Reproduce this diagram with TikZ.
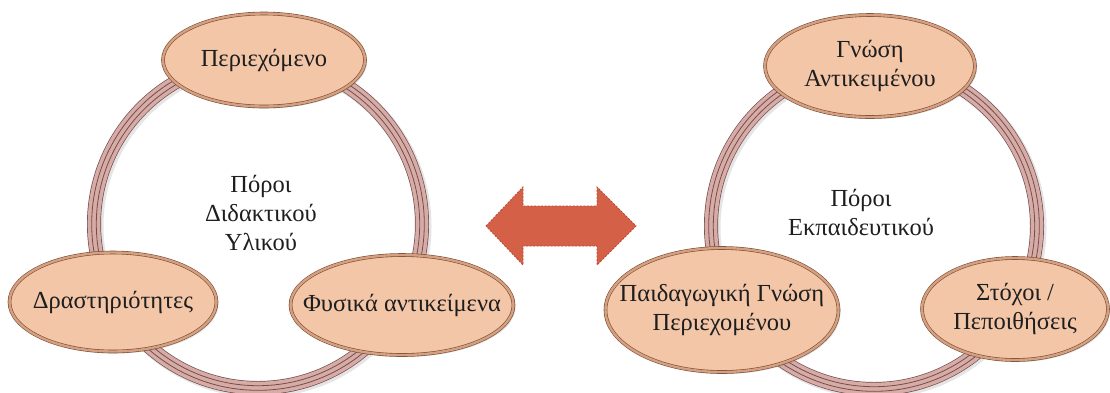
\documentclass[tikz,border=0pt]{standalone}
\usepackage{fontspec}
\setmainfont{Liberation Serif}
\usetikzlibrary{shapes.geometric,shadows}
\definecolor{peach}{RGB}{243,198,168}
\definecolor{ovalline}{RGB}{120,78,55}
\definecolor{ovalband}{RGB}{214,160,128}
\definecolor{ringpink}{RGB}{216,172,166}
\definecolor{ringdark}{RGB}{115,78,78}
\definecolor{arrowfill}{RGB}{212,96,72}
\definecolor{arrowline}{RGB}{185,75,55}
\definecolor{txt}{RGB}{30,30,30}
\tikzset{
  oval/.style={ellipse, fill=peach, draw=ovalline, line width=0.6pt,
    double=ovalband, double distance=2.4pt, inner sep=0pt,
    drop shadow={opacity=0.25, shadow xshift=2pt, shadow yshift=-2pt}},
  lbl/.style={align=center, text=txt, inner sep=0pt,
    font=\fontsize{24.5}{29}\selectfont},
  ringshadow/.style={line width=15pt, draw=black, opacity=0.10},
  ringouter/.style={line width=14pt, draw=ringdark},
  ringinner/.style={line width=12.6pt, draw=ringpink},
  ringline/.style={line width=0.8pt, draw=ringdark},
}
\begin{document}
\begin{tikzpicture}[x=1pt,y=-1pt]
\useasboundingbox (0,0) rectangle (1110,392);
% left ring
\coordinate (cl) at (258,224);
\draw[ringshadow] ([shift={(2,2)}]cl) circle (164);
\draw[ringouter] (cl) circle (164);
\draw[ringinner] (cl) circle (164);
\draw[ringline] (cl) circle (166.3);
\draw[ringline] (cl) circle (161.7);
% right ring
\coordinate (cr) at (874,226);
\draw[ringshadow] ([shift={(2,2)}]cr) circle (163);
\draw[ringouter] (cr) circle (163);
\draw[ringinner] (cr) circle (163);
\draw[ringline] (cr) circle (165.3);
\draw[ringline] (cr) circle (160.7);
% left ovals
\node[oval, minimum width=202pt, minimum height=93pt] (e1) at (264,60) {};
\node[lbl] (t1) at (e1) {Περιεχόμενο};
\node[oval, minimum width=207pt, minimum height=99pt] (e2) at (113,302) {};
\node[lbl] (t2) at (e2) {Δραστηριότητες};
\node[oval, minimum width=223pt, minimum height=100pt] (e3) at (402,305) {};
\node[lbl] (t3) at (e3) {Φυσικά αντικείμενα};
\node[lbl] (c1) at (261,213) {Πόροι\\Διδακτικού\\Υλικού};
% right ovals
\node[oval, minimum width=210pt, minimum height=102pt] (e4) at (870,66) {};
\node[lbl] (t4) at (e4) {Γνώση\\Αντικειμένου};
\node[oval, minimum width=233pt, minimum height=124pt] (e5) at (722,310) {};
\node[lbl] (t5) at (e5) {Παιδαγωγική Γνώση\\Περιεχομένου};
\node[oval, minimum width=186pt, minimum height=102pt] (e6) at (1015,309) {};
\node[lbl] (t6) at (e6) {Στόχοι /\\Πεποιθήσεις};
\node[lbl] (c2) at (861,212) {Πόροι\\Εκπαιδευτικού};
% double arrow
\draw[fill=arrowfill, draw=arrowline, dashed, line width=0.8pt, dash pattern=on 2pt off 1.5pt]
  (486,226) -- (523,187) -- (523,206) -- (597,206) -- (597,187) -- (636,226)
  -- (597,265) -- (597,246) -- (523,246) -- (523,265) -- cycle;
\end{tikzpicture}
\end{document}
